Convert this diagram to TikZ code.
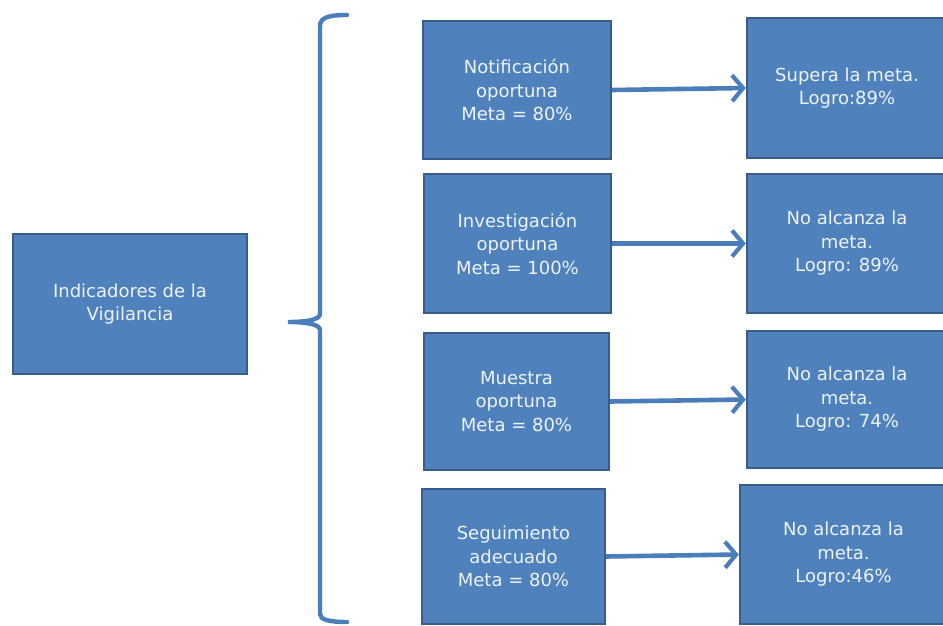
\documentclass[tikz,border=0pt]{standalone}
\usepackage{fontspec}
\setmainfont{DejaVu Sans}
\usetikzlibrary{arrows.meta}
\definecolor{boxfill}{HTML}{4F81BD}
\definecolor{boxline}{HTML}{385D8A}
\definecolor{boxtext}{HTML}{EEF3FA}
\definecolor{linkcol}{HTML}{4A7EBB}
\tikzset{
  box/.style={rectangle, draw=boxline, line width=2.4pt, fill=boxfill, text=boxtext,
    align=center, inner sep=2pt, font=\fontsize{18}{23.5}\selectfont},
  link/.style={draw=linkcol, line width=4.6pt, -{Straight Barb[length=11pt,width=26pt,line width=4.2pt]}},
  bracestyle/.style={draw=linkcol, line width=4.4pt, line cap=round}
}
\begin{document}
\begin{tikzpicture}[x=1pt,y=-1pt]
\useasboundingbox (0,0) rectangle (943,626);
\clip (0,0) rectangle (943,626);
\fill[white] (0,0) rectangle (943,626);
\node[box, minimum width=234pt, minimum height=140pt] (ind) at (130,304) {Indicadores de la\\Vigilancia};

\node[box, minimum width=188pt, minimum height=138pt] (m1) at (517,90) {Notificación\\oportuna\\Meta = 80\%};
\node[box, minimum width=187pt, minimum height=139pt] (m2) at (517.5,243.5) {Investigación\\oportuna\\Meta = 100\%};
\node[box, minimum width=185pt, minimum height=137pt] (m3) at (516.5,401.5) {Muestra\\oportuna\\Meta = 80\%};
\node[box, minimum width=183pt, minimum height=135pt] (m4) at (513.5,556.5) {Seguimiento\\adecuado\\Meta = 80\%};

\node[box, minimum width=200pt, minimum height=140pt] (r1) at (847,88) {Supera la meta.\\Logro:89\%};
\node[box, minimum width=200pt, minimum height=139pt] (r2) at (847,243.5) {No alcanza la\\meta.\\Logro: 89\%};
\node[box, minimum width=200pt, minimum height=137pt] (r3) at (847,399.5) {No alcanza la\\meta.\\Logro: 74\%};
\node[box, minimum width=207pt, minimum height=139pt] (r4) at (843.5,554.5) {No alcanza la\\meta.\\Logro:46\%};

\draw[link] (m1.east) -- (r1.west);
\draw[link] (m2.east) -- (r2.west);
\draw[link] (m3.east) -- (r3.west);
\draw[link] (m4.east) -- (r4.west);

\coordinate (btop) at (347,15);
\coordinate (btip) at (288,322);
\coordinate (bbot) at (347,622);
\draw[bracestyle] (btop) .. controls (330,15) and (320,17) .. (320,26)
  -- (320,314) .. controls (320,320) and (305,322) .. (btip)
  .. controls (305,322) and (320,324) .. (320,330)
  -- (320,614) .. controls (320,620) and (330,622) .. (bbot);
\end{tikzpicture}
\end{document}
